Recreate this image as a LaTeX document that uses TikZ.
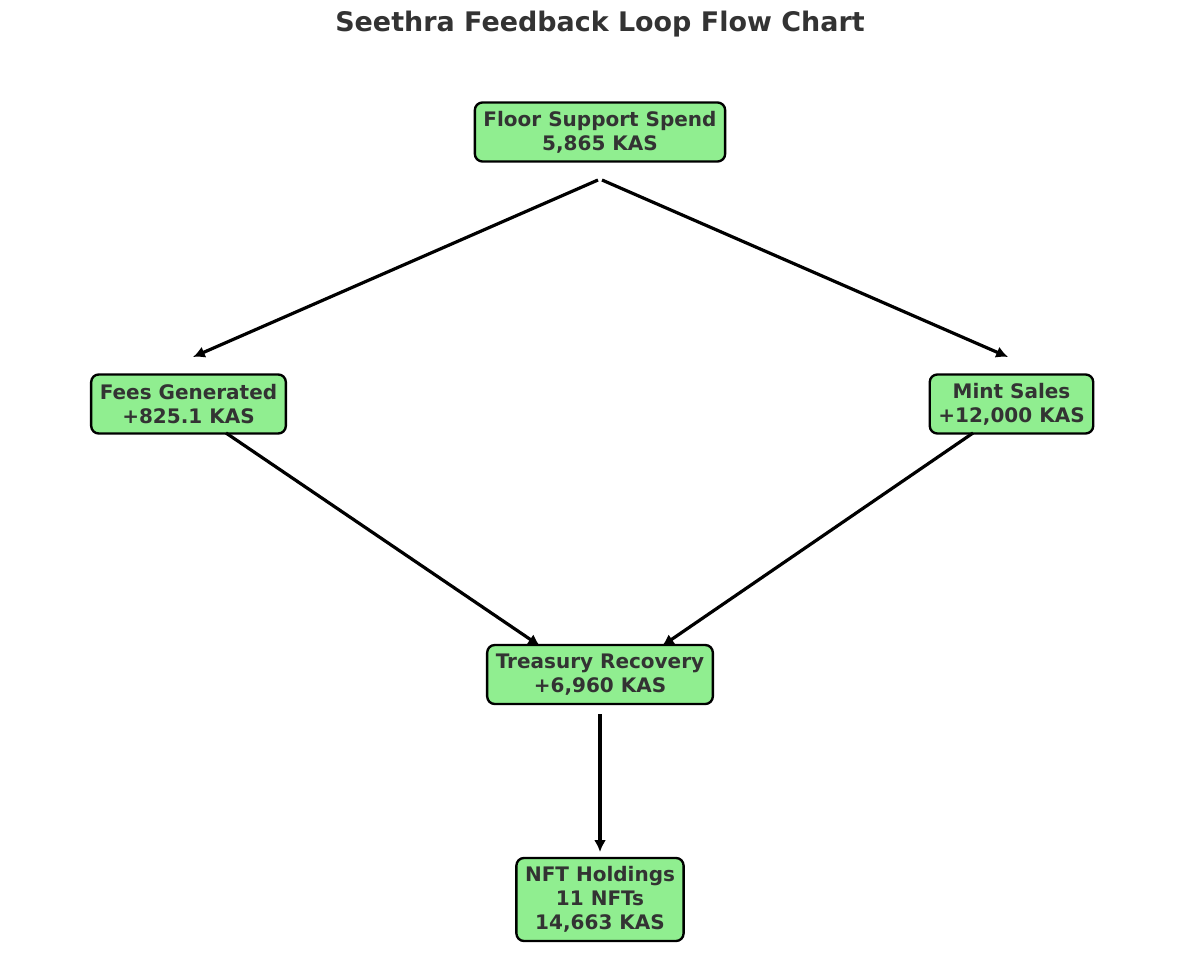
\documentclass[tikz,border=0pt]{standalone}
\usepackage{fontspec}
\setmainfont{DejaVu Sans}
\usetikzlibrary{arrows.meta}
\definecolor{boxgreen}{HTML}{90EE90}
\definecolor{txt}{HTML}{333333}
\tikzset{
  flowbox/.style={draw=black, line width=1.7pt, fill=boxgreen, rounded corners=5.5pt,
    align=center, text=txt, font=\fontsize{14.4}{17.3}\selectfont\bfseries,
    inner xsep=6.2pt, inner ysep=0pt, minimum height=42.5pt},
  flowarrow/.style={line width=2.3pt, -{Latex[length=8.5pt,width=8.5pt]}}
}
\begin{document}
\begin{tikzpicture}[x=0.72pt,y=-0.72pt]
\useasboundingbox (0,0) rectangle (1200,958);
\node[text=txt, font=\fontsize{19.4}{23}\selectfont\bfseries] (title) at (600,24) {Seethra Feedback Loop Flow Chart};
\node[flowbox] (floor) at (600,132) {Floor Support Spend\\5,865 KAS};
\node[flowbox] (fees) at (188.5,404) {Fees Generated\\+825.1 KAS};
\node[flowbox] (mint) at (1011.5,404) {Mint Sales\\+12,000 KAS};
\node[flowbox] (treas) at (600,674.5) {Treasury Recovery\\+6,960 KAS};
\node[flowbox, minimum height=59.8pt] (nft) at (600,899.5) {NFT Holdings\\11 NFTs\\14,663 KAS};
\coordinate (floorL) at (598,180);
\coordinate (floorR) at (602,180);
\coordinate (feesin) at (193,357);
\coordinate (mintin) at (1008,357);
\coordinate (feesout) at (226,433);
\coordinate (mintout) at (973,433);
\coordinate (treasinL) at (540,646);
\coordinate (treasinR) at (662,646);
\coordinate (treasout) at (600,714);
\coordinate (nftin) at (600,852);
\draw[flowarrow] (floorL) -- (feesin);
\draw[flowarrow] (floorR) -- (mintin);
\draw[flowarrow] (feesout) -- (treasinL);
\draw[flowarrow] (mintout) -- (treasinR);
\draw[flowarrow] (treasout) -- (nftin);
\end{tikzpicture}
\end{document}
